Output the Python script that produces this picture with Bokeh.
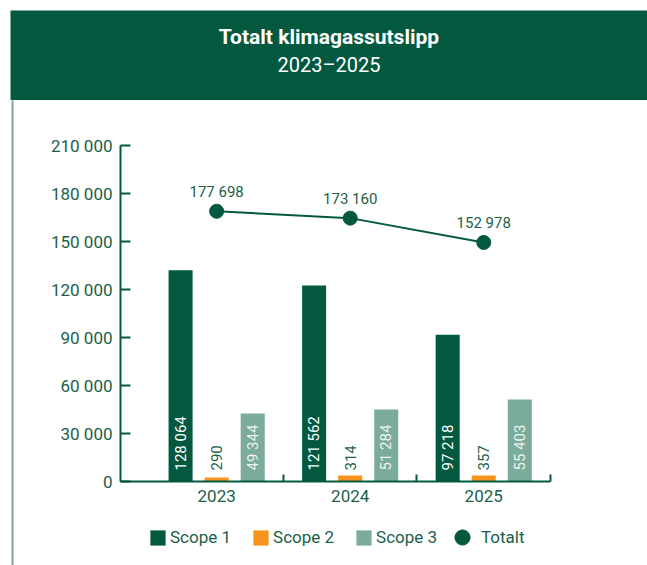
import math
from bokeh.plotting import figure
from bokeh.models import ColumnDataSource, Range1d, FixedTicker, Legend, LegendItem
from bokeh.layouts import column, row
from bokeh.transform import dodge
from bokeh.core.properties import value
from bokeh.embed import file_html
from bokeh.resources import INLINE

# ---------------- data ----------------
years = ["2023", "2024", "2025"]
scope1 = [132000, 122500, 91700]
scope2 = [2500, 3700, 3700]
scope3 = [42500, 45000, 51300]
totalt = [168900, 164600, 149400]
scope1_labels = ["128 064", "121 562", "97 218"]
scope2_labels = ["290", "314", "357"]
scope3_labels = ["49 344", "51 284", "55 403"]
totalt_labels = ["177 698", "173 160", "152 978"]
series_names = ["Scope 1", "Scope 2", "Scope 3", "Totalt"]
y_ticks = [0, 30000, 60000, 90000, 120000, 150000, 180000, 210000]
y_tick_labels = ["0", "30 000", "60 000", "90 000", "120 000", "150 000", "180 000", "210 000"]
title_text = "Totalt klimagassutslipp"
subtitle_text = "2023\u20132025"

# ---------------- style ----------------
FONT = "Roboto"
DARK = "#03593f"
ORANGE = "#f7941d"
LIGHT = "#7aab9c"
TXT = "#1b5f48"
BORDER = "#7aa999"

xs = list(range(len(years)))
src = ColumnDataSource(dict(
    x=xs, s1=scope1, s2=scope2, s3=scope3, tot=totalt,
    l1=scope1_labels, l2=scope2_labels, l3=scope3_labels, lt=totalt_labels,
))

# ---------------- header ----------------
hdr = figure(frame_width=637, frame_height=90, x_range=Range1d(0, 1), y_range=Range1d(0, 1),
             x_axis_type=None, y_axis_type=None, toolbar_location=None, output_backend="svg",
             min_border=0, min_border_left=10, min_border_top=10, outline_line_color=None,
             background_fill_color=DARK, border_fill_color="white")
hdr.grid.visible = False
hdr.text(x=[0.5], y=[0.71], text=[title_text], text_font=value(FONT), text_font_style="bold",
         text_font_size="21px", text_color="white", text_align="center", text_baseline="alphabetic")
hdr.text(x=[0.5], y=[0.39], text=[subtitle_text], text_font=value(FONT),
         text_font_size="20px", text_color="white", text_align="center", text_baseline="alphabetic")

# ---------------- left border strip ----------------
strip = figure(frame_width=2, frame_height=465, x_axis_type=None, y_axis_type=None,
               toolbar_location=None, output_backend="svg", min_border=0, min_border_left=11,
               min_border_right=1, outline_line_color=None, background_fill_color=BORDER,
               border_fill_color="white")
strip.grid.visible = False

# ---------------- main chart ----------------
p = figure(frame_width=430, frame_height=336, x_range=Range1d(-0.72, 2.5), y_range=Range1d(0, 210000),
           toolbar_location=None, output_backend="svg", min_border=0,
           min_border_left=106, min_border_right=97, min_border_top=45, min_border_bottom=30,
           outline_line_color=None, background_fill_color="white", border_fill_color="white")
p.grid.visible = False

p.vbar(x=dodge("x", -0.27, range=p.x_range), top="s1", width=0.18, source=src,
       fill_color=DARK, line_color=None)
p.vbar(x=dodge("x", 0.0, range=p.x_range), top="s2", width=0.18, source=src,
       fill_color=ORANGE, line_color=None)
p.vbar(x=dodge("x", 0.27, range=p.x_range), top="s3", width=0.18, source=src,
       fill_color=LIGHT, line_color=None)

p.text(x=dodge("x", -0.27, range=p.x_range), y=0, text="l1", source=src, angle=math.pi / 2,
       text_align="left", text_baseline="middle", y_offset=-11, text_font=value(FONT),
       text_font_size="15px", text_color="white")
p.text(x=dodge("x", 0.0, range=p.x_range), y=0, text="l2", source=src, angle=math.pi / 2,
       text_align="left", text_baseline="middle", y_offset=-11, text_font=value(FONT),
       text_font_size="15px", text_color=TXT)
p.text(x=dodge("x", 0.27, range=p.x_range), y=0, text="l3", source=src, angle=math.pi / 2,
       text_align="left", text_baseline="middle", y_offset=-11, text_font=value(FONT),
       text_font_size="15px", text_color="#eef4f1")

p.line(x="x", y="tot", source=src, line_color=DARK, line_width=2)
p.scatter(x="x", y="tot", source=src, size=14, fill_color=DARK, line_color=DARK)
p.text(x="x", y="tot", text="lt", source=src, text_align="center", text_baseline="alphabetic",
       y_offset=-19, text_font=value(FONT), text_font_size="15px", text_color=TXT)

# y axis
ya = p.yaxis[0]
ya.ticker = FixedTicker(ticks=y_ticks)
ya.major_label_overrides = {t: l for t, l in zip(y_ticks, y_tick_labels)}
ya.major_tick_in = 10
ya.major_tick_out = 0
ya.minor_tick_line_color = None
ya.axis_line_color = DARK
ya.axis_line_width = 2
ya.major_tick_line_color = DARK
ya.major_tick_line_width = 2
ya.major_label_standoff = 8
ya.major_label_text_font = FONT
ya.major_label_text_font_size = "17px"
ya.major_label_text_color = TXT

# x axis
xa = p.xaxis[0]
xa.ticker = FixedTicker(ticks=xs, minor_ticks=[i + 0.5 for i in xs])
xa.major_label_overrides = {i: y for i, y in zip(xs, years)}
xa.major_tick_in = 0
xa.major_tick_out = 0
xa.minor_tick_in = 7
xa.minor_tick_out = 0
xa.minor_tick_line_color = DARK
xa.minor_tick_line_width = 2
xa.axis_line_color = DARK
xa.axis_line_width = 2
xa.major_label_standoff = 8
xa.major_label_text_font = FONT
xa.major_label_text_font_size = "17px"
xa.major_label_text_color = TXT

# ---------------- legend strip ----------------
leg = figure(frame_width=430, frame_height=54, x_range=Range1d(-0.72, 2.5), y_range=Range1d(0, 210000),
             x_axis_type=None, y_axis_type=None, toolbar_location=None, output_backend="svg",
             min_border=0, min_border_left=106, min_border_right=97, outline_line_color=None,
             background_fill_color="white", border_fill_color="white")
leg.grid.visible = False
k1 = leg.vbar(x="x", top="s1", width=0.18, source=src, fill_color=DARK, line_color=None, visible=False)
k2 = leg.vbar(x="x", top="s2", width=0.18, source=src, fill_color=ORANGE, line_color=None, visible=False)
k3 = leg.vbar(x="x", top="s3", width=0.18, source=src, fill_color=LIGHT, line_color=None, visible=False)
k4 = leg.scatter(x="x", y="tot", source=src, size=14, fill_color=DARK, line_color=DARK, visible=False)

common = dict(orientation="horizontal", margin=0, padding=0, border_line_color=None,
              background_fill_alpha=0, label_text_font=FONT, label_text_font_size="17px",
              label_text_color=TXT, label_height=15, click_policy="none",
              inactive_fill_alpha=0)
legA = Legend(items=[LegendItem(label=series_names[0], renderers=[k1]),
                     LegendItem(label=series_names[1], renderers=[k2]),
                     LegendItem(label=series_names[2], renderers=[k3])],
              location=(28, 18), glyph_width=19, glyph_height=19, label_standoff=3, spacing=20,
              **common)
legB = Legend(items=[LegendItem(label=series_names[3], renderers=[k4])],
              location=(323, 9), glyph_width=38, glyph_height=38, label_standoff=0, spacing=0,
              **common)
leg.add_layout(legA, "center")
leg.add_layout(legB, "center")

layout = column(hdr, row(strip, column(p, leg)))
open("out.html", "w").write(file_html(layout, INLINE))
